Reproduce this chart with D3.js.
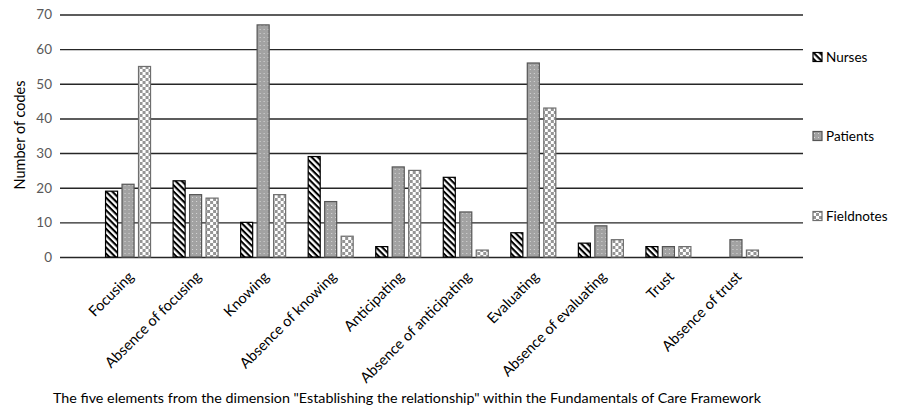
<!DOCTYPE html>
<html>
<head>
<meta charset="utf-8">
<script src="https://cdn.jsdelivr.net/npm/d3@7"></script>
<style>
  html, body { margin: 0; padding: 0; background: #fff; }
  svg { display: block; font-family: Lato, "Open Sans", sans-serif; }
</style>
</head>
<body>
<svg id="chart" width="904" height="410"></svg>
<script>
// Codes per element of "Establishing the relationship"
const categories = [
  "Focusing", "Absence of focusing", "Knowing", "Absence of knowing",
  "Anticipating", "Absence of anticipating", "Evaluating",
  "Absence of evaluating", "Trust", "Absence of trust"
];
const seriesNames = ["Nurses", "Patients", "Fieldnotes"];
const nurses     = [19, 22, 10, 29, 3, 23, 7, 4, 3, 0];
const patients   = [21, 18, 67, 16, 26, 13, 56, 9, 3, 5];
const fieldnotes = [55, 17, 18, 6, 25, 2, 43, 5, 3, 2];
const yTicks = [0, 10, 20, 30, 40, 50, 60, 70];
const yTitle = "Number of codes";
const caption = 'The five elements from the dimension "Establishing the relationship" within the Fundamentals of Care Framework';

const seriesValues = [nurses, patients, fieldnotes];

const svg = d3.select("#chart");
const plot = { left: 60, right: 803, top: 14.5, bottom: 257 };

// Fill patterns for the three series
const defs = svg.append("defs");

const stripes = defs.append("pattern")
  .attr("id", "pat-nurses").attr("patternUnits", "userSpaceOnUse")
  .attr("width", 4.4).attr("height", 4.4)
  .attr("patternTransform", "rotate(45)");
stripes.append("rect").attr("width", 4.4).attr("height", 4.4).attr("fill", "#fff");
stripes.append("rect").attr("x", 0).attr("y", 0).attr("width", 4.4).attr("height", 2.1).attr("fill", "#000");

const dots = defs.append("pattern")
  .attr("id", "pat-patients").attr("patternUnits", "userSpaceOnUse")
  .attr("width", 4).attr("height", 4);
dots.append("rect").attr("width", 4).attr("height", 4).attr("fill", "#a2a2a2");
dots.append("rect").attr("x", 1).attr("y", 1).attr("width", 1).attr("height", 1).attr("fill", "#d8d8d8");

const checks = defs.append("pattern")
  .attr("id", "pat-fieldnotes").attr("patternUnits", "userSpaceOnUse")
  .attr("width", 6).attr("height", 6);
checks.append("rect").attr("width", 6).attr("height", 6).attr("fill", "#fff");
checks.append("rect").attr("x", 0).attr("y", 0).attr("width", 3).attr("height", 3).attr("fill", "#959595");
checks.append("rect").attr("x", 3).attr("y", 3).attr("width", 3).attr("height", 3).attr("fill", "#959595");

const fills = ["url(#pat-nurses)", "url(#pat-patients)", "url(#pat-fieldnotes)"];
const strokes = ["#000", "#555", "#6e6e6e"];

// Scales
const x = d3.scalePoint().domain(categories).range([plot.left, plot.right]).padding(1);
const xs = d3.scaleBand().domain(seriesNames).range([-22, 23]).paddingInner(0.27).paddingOuter(0);
const y = d3.scaleLinear().domain([0, 70]).range([plot.bottom, plot.top]);

// Gridlines with value labels
const yAxis = d3.axisLeft(y).tickValues(yTicks).tickSize(-(plot.right - plot.left)).tickPadding(8);
const gy = svg.append("g").attr("transform", `translate(${plot.left},0)`).call(yAxis);
gy.select(".domain").remove();
gy.selectAll(".tick line").attr("stroke", "#262626").attr("stroke-width", 1.4);
gy.selectAll(".tick text").attr("fill", "#595959").attr("font-size", 13.5)
  .attr("font-family", "Lato, sans-serif");

// Bars
const groups = svg.append("g").selectAll("g")
  .data(categories).join("g")
  .attr("transform", d => `translate(${x(d)},0)`);

groups.selectAll("rect")
  .data((c, i) => seriesNames.map((s, k) => ({ s, k, v: seriesValues[k][i] })).filter(d => d.v > 0))
  .join("rect")
  .attr("x", d => xs(d.s))
  .attr("y", d => y(d.v))
  .attr("width", xs.bandwidth())
  .attr("height", d => y(0) - y(d.v))
  .attr("fill", d => fills[d.k])
  .attr("stroke", d => strokes[d.k])
  .attr("stroke-width", 1.2);

// Category labels on the baseline
const xAxis = d3.axisBottom(x).tickSize(0).tickPadding(0);
const gx = svg.append("g").attr("transform", `translate(0,${plot.bottom})`).call(xAxis);
gx.select(".domain").remove();
gx.selectAll(".tick text")
  .attr("fill", "#000").attr("font-size", 14.6)
  .attr("font-family", "Lato, sans-serif")
  .attr("text-anchor", "end")
  .attr("transform", "translate(3,17) rotate(-45)")
  .attr("dy", "0.35em").attr("y", 0);

// Axis title
svg.append("text")
  .attr("transform", "translate(25,135) rotate(-90)")
  .attr("text-anchor", "middle")
  .attr("font-size", 14.5)
  .attr("fill", "#000")
  .text(yTitle);

// Legend
const legendY = [57, 136, 216];
const legend = svg.append("g").selectAll("g")
  .data(seriesNames).join("g")
  .attr("transform", (d, i) => `translate(813,${legendY[i]})`);
legend.append("rect")
  .attr("x", 0).attr("y", -4.5).attr("width", 9).attr("height", 9)
  .attr("fill", (d, i) => fills[i]).attr("stroke", (d, i) => strokes[i]).attr("stroke-width", 1.2);
legend.append("text")
  .attr("x", 13).attr("dy", "0.35em")
  .attr("font-size", 13.5).attr("fill", "#000")
  .text(d => d);

// Caption
svg.append("text")
  .attr("x", 53).attr("y", 403)
  .attr("font-size", 14.3).attr("fill", "#000")
  .text(caption);
</script>
</body>
</html>
